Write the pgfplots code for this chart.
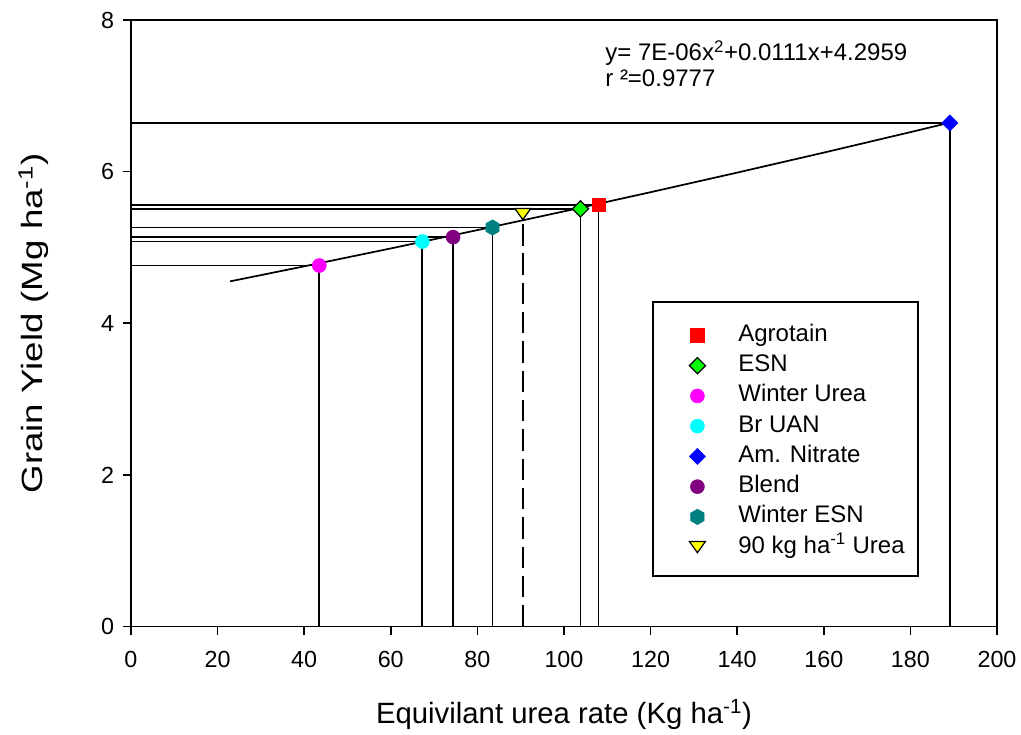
\documentclass[border=0pt]{standalone}
\usepackage{pgfplots}
\pgfplotsset{compat=1.18}
\usepackage{fontspec}
\usepackage{graphicx}
\setmainfont{Liberation Sans}

\definecolor{agro}{RGB}{255,0,0}
\definecolor{esn}{RGB}{0,255,0}
\definecolor{wurea}{RGB}{255,0,255}
\definecolor{bruan}{RGB}{0,255,255}
\definecolor{amnit}{RGB}{0,0,255}
\definecolor{blend}{RGB}{128,0,128}
\definecolor{wesn}{RGB}{0,128,128}
\definecolor{urea90}{RGB}{255,255,0}

% pointy-top hexagon
\pgfdeclareplotmark{hexa}{%
  \pgfpathmoveto{\pgfqpoint{0pt}{\pgfplotmarksize}}%
  \pgfpathlineto{\pgfqpoint{0.866\pgfplotmarksize}{0.5\pgfplotmarksize}}%
  \pgfpathlineto{\pgfqpoint{0.866\pgfplotmarksize}{-0.5\pgfplotmarksize}}%
  \pgfpathlineto{\pgfqpoint{0pt}{-\pgfplotmarksize}}%
  \pgfpathlineto{\pgfqpoint{-0.866\pgfplotmarksize}{-0.5\pgfplotmarksize}}%
  \pgfpathlineto{\pgfqpoint{-0.866\pgfplotmarksize}{0.5\pgfplotmarksize}}%
  \pgfpathclose\pgfusepathqfillstroke}
% flat downward triangle
\pgfdeclareplotmark{dtri}{%
  \pgfpathmoveto{\pgfqpoint{-\pgfplotmarksize}{0.7\pgfplotmarksize}}%
  \pgfpathlineto{\pgfqpoint{\pgfplotmarksize}{0.7\pgfplotmarksize}}%
  \pgfpathlineto{\pgfqpoint{0pt}{-0.7\pgfplotmarksize}}%
  \pgfpathclose\pgfusepathqfillstroke}

\begin{document}
\begin{tikzpicture}
\begin{axis}[
  name=ax,
  scale only axis,
  width=650pt, height=455.25pt,
  xmin=0, xmax=200, ymin=0, ymax=8,
  xtick={0,20,...,200}, ytick={0,2,4,6,8},
  tick pos=left, tick align=outside,
  major tick length=6pt,
  axis line style={line width=1.3pt},
  every tick/.style={line width=1.2pt, black},
  /pgf/number format/assume math mode=true,
  ticklabel style={font=\fontsize{17.5}{20}\selectfont},
  xticklabel style={yshift=-9pt},
  yticklabel style={xshift=-3pt},
  label style={font=\fontsize{22}{26}\selectfont},
  xlabel={Equivilant urea rate (Kg ha\textsuperscript{-1})},
  ylabel={\scalebox{1.25}[1]{Grain Yield (Mg ha\textsuperscript{-1})}},
  xlabel style={at={(axis description cs:0.5,0)}, anchor=center, yshift=-66pt},
  ylabel style={at={(axis description cs:0,0.5)}, anchor=center, yshift=73pt},
  legend style={
    at={(axis cs:120.6,4.283)}, anchor=north west,
    draw=none, fill=none,
    inner xsep=0pt, inner ysep=16.5pt,
    font=\fontsize{18}{21}\selectfont,
    nodes={inner sep=0pt, text height=13pt, text depth=4pt},
    row sep=5.7pt, column sep=0pt,
  },
  legend cell align=left,
  legend image code/.code={
    \path[draw=none, fill=none] (-33pt,0pt) -- (30.75pt,0pt);
    \draw[#1] plot coordinates {(0pt,0pt)};
  },
  clip=false,
]

% drop lines to the axes
\addplot[black, line width=1.3pt, forget plot] coordinates {(0,5.562)(108.0,5.562)(108.0,0)};
\addplot[black, line width=1.3pt, forget plot] coordinates {(0,5.509)(103.8,5.509)(103.8,0)};
\addplot[black, line width=1.3pt, forget plot] coordinates {(0,4.762)(43.5,4.762)(43.5,0)};
\addplot[black, line width=1.3pt, forget plot] coordinates {(0,5.078)(67.3,5.078)(67.3,0)};
\addplot[black, line width=1.3pt, forget plot] coordinates {(0,6.642)(189.1,6.642)(189.1,0)};
\addplot[black, line width=1.3pt, forget plot] coordinates {(0,5.136)(74.4,5.136)(74.4,0)};
\addplot[black, line width=1.3pt, forget plot] coordinates {(0,5.263)(83.5,5.263)(83.5,0)};
\addplot[black, line width=1.3pt, dash pattern=on 16pt off 6pt, forget plot]
  coordinates {(90.5,0)(90.5,5.44)};

% quadratic fit
\addplot[black, line width=1.3pt, forget plot] coordinates {
  (22.9,4.553)(40,4.751)(60,4.987)(80,5.229)(100,5.476)
  (120,5.729)(140,5.987)(160,6.251)(180,6.521)(189.1,6.646)
};

% treatments
\addplot[only marks, mark=square*, mark size=5pt, mark options={draw=agro, fill=agro}]
  coordinates {(108.0,5.562)};
\addlegendentry{Agrotain}
\addplot[only marks, mark=square*, mark size=4.3pt, mark options={rotate=45, draw=black, fill=esn, line width=0.9pt}]
  coordinates {(103.8,5.509)};
\addlegendentry{ESN}
\addplot[only marks, mark=*, mark size=5.25pt, mark options={draw=wurea, fill=wurea}]
  coordinates {(43.5,4.762)};
\addlegendentry{Winter Urea}
\addplot[only marks, mark=*, mark size=5.25pt, mark options={draw=bruan, fill=bruan}]
  coordinates {(67.3,5.078)};
\addlegendentry{Br UAN}
\addplot[only marks, mark=square*, mark size=4.3pt, mark options={rotate=45, draw=amnit, fill=amnit}]
  coordinates {(189.1,6.642)};
\addlegendentry{Am. Nitrate}
\addplot[only marks, mark=*, mark size=5.25pt, mark options={draw=blend, fill=blend}]
  coordinates {(74.4,5.136)};
\addlegendentry{Blend}
\addplot[only marks, mark=hexa, mark size=5.8pt, mark options={draw=wesn, fill=wesn}]
  coordinates {(83.5,5.263)};
\addlegendentry{Winter ESN}
\addplot[only marks, mark=dtri, mark size=6pt, mark options={draw=black, fill=urea90, line width=0.9pt}]
  coordinates {(90.5,5.44)};
\addlegendentry{90 kg ha\textsuperscript{-1} Urea}

% legend frame
\draw[line width=1.3pt] (axis cs:120.6,0.672) rectangle (axis cs:181.8,4.283);

% fit equation
\node[anchor=base west, font=\fontsize{18}{21}\selectfont, inner sep=0pt]
  at (axis cs:109.5,7.464) {y= 7E-06x\textsuperscript{2}+0.0111x+4.2959};
\node[anchor=base west, font=\fontsize{18}{21}\selectfont, inner sep=0pt]
  at (axis cs:109.5,7.121) {r ²=0.9777};
\end{axis}
\path ([shift={(-98.25pt,-78.75pt)}]ax.south west) rectangle ([shift={(18pt,15pt)}]ax.north east);
\end{tikzpicture}
\end{document}
